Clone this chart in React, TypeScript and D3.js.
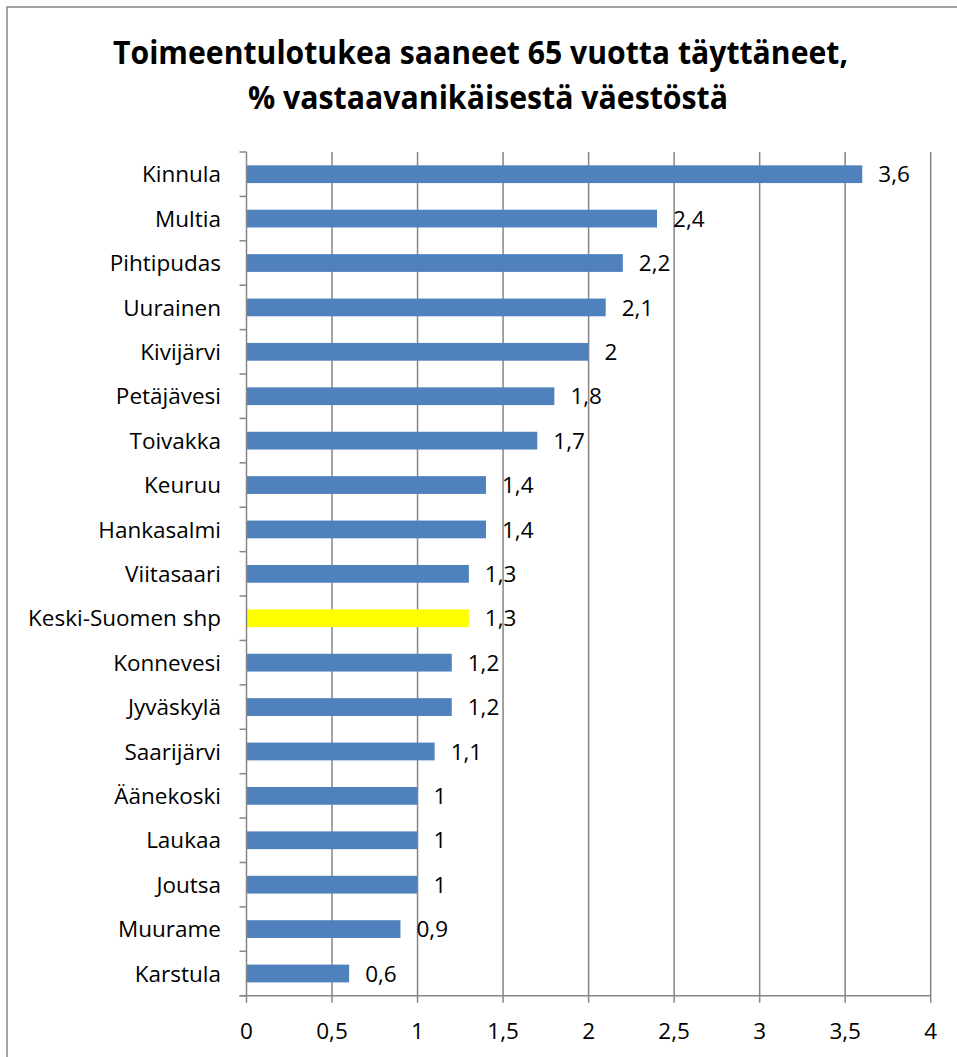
import React, { useEffect, useRef } from "react";
import * as d3 from "d3";

// chart data
const categories = [
    "Kinnula", "Multia", "Pihtipudas", "Uurainen", "Kivijärvi", "Petäjävesi",
    "Toivakka", "Keuruu", "Hankasalmi", "Viitasaari", "Keski-Suomen shp",
    "Konnevesi", "Jyväskylä", "Saarijärvi", "Äänekoski", "Laukaa", "Joutsa",
    "Muurame", "Karstula",
];
const values = [3.6, 2.4, 2.2, 2.1, 2, 1.8, 1.7, 1.4, 1.4, 1.3, 1.3, 1.2, 1.2, 1.1, 1, 1, 1, 0.9, 0.6];
const highlighted = ["Keski-Suomen shp"];
const xTicks = [0, 0.5, 1, 1.5, 2, 2.5, 3, 3.5, 4];
const titleLines = ["Toimeentulotukea saaneet 65 vuotta täyttäneet,", "% vastaavanikäisestä väestöstä"];

const W = 957;
const H = 1057;
const FONT = "'Open Sans', 'Noto Sans', sans-serif";
const LABEL_SIZE = 22.5;
const fmt = (v: number) => String(v).replace(".", ",");

export default function App() {
    const ref = useRef<SVGSVGElement | null>(null);

    useEffect(() => {
        document.body.style.margin = "0";
        const svg = d3.select(ref.current);
        svg.selectAll("*").remove();

        const left = 246.5, right = 930.7, top = 152, bottom = 995.7;

        const x = d3.scaleLinear().domain([0, 4]).range([left, right]);
        const y = d3.scaleBand<string>()
            .domain(categories)
            .range([top, bottom])
            .paddingInner(0.6)
            .paddingOuter(0.3);
        const rows = d3.scaleBand<string>().domain(categories).range([top, bottom]);

        // outer frame
        svg.append("rect")
            .attr("x", 7).attr("y", 7)
            .attr("width", W).attr("height", H)
            .attr("fill", "white")
            .attr("stroke", "#868686")
            .attr("stroke-width", 1.5);

        // title (squeezed to the reference's width, it uses a narrow bold face)
        const tw = [735, 480];
        svg.selectAll("text.title")
            .data(titleLines)
            .enter()
            .append("text")
            .attr("class", "title")
            .attr("x", (_, i) => (i === 0 ? 480.5 : 488))
            .attr("y", (_, i) => (i === 0 ? 64 : 109))
            .attr("text-anchor", "middle")
            .attr("textLength", (_, i) => tw[i])
            .attr("lengthAdjust", "spacingAndGlyphs")
            .attr("font-family", FONT)
            .attr("font-weight", "bold")
            .attr("font-size", 32)
            .attr("fill", "#000")
            .text(d => d);

        // vertical gridlines
        svg.selectAll("line.grid")
            .data(xTicks.slice(1))
            .enter()
            .append("line")
            .attr("x1", d => x(d)).attr("x2", d => x(d))
            .attr("y1", top).attr("y2", bottom)
            .attr("stroke", "#868686")
            .attr("stroke-width", 1.5);

        // bars
        svg.selectAll("rect.bar")
            .data(categories)
            .enter()
            .append("rect")
            .attr("x", x(0))
            .attr("y", d => y(d)!)
            .attr("width", (_, i) => x(values[i]) - x(0))
            .attr("height", y.bandwidth())
            .attr("fill", d => (highlighted.includes(d) ? "#FFFF00" : "#4F81BD"));

        // value labels
        svg.selectAll("text.val")
            .data(categories)
            .enter()
            .append("text")
            .attr("x", (_, i) => x(values[i]) + 16)
            .attr("y", d => y(d)! + y.bandwidth() / 2)
            .attr("dy", "0.36em")
            .attr("font-family", FONT)
            .attr("font-size", LABEL_SIZE)
            .attr("fill", "#000")
            .text((_, i) => fmt(values[i]));

        // y axis
        svg.append("line")
            .attr("x1", left).attr("x2", left)
            .attr("y1", top).attr("y2", bottom)
            .attr("stroke", "#868686").attr("stroke-width", 1.5);
        const bounds = categories.map(c => rows(c)!).concat([bottom]);
        svg.selectAll("line.ytick")
            .data(bounds)
            .enter()
            .append("line")
            .attr("x1", left - 7).attr("x2", left)
            .attr("y1", d => d).attr("y2", d => d)
            .attr("stroke", "#868686").attr("stroke-width", 1.5);
        svg.selectAll("text.cat")
            .data(categories)
            .enter()
            .append("text")
            .attr("x", 221)
            .attr("y", d => rows(d)! + rows.bandwidth() / 2)
            .attr("dy", "0.36em")
            .attr("text-anchor", "end")
            .attr("font-family", FONT)
            .attr("font-size", LABEL_SIZE)
            .attr("fill", "#000")
            .text(d => d);

        // x axis
        svg.append("line")
            .attr("x1", left - 7).attr("x2", right)
            .attr("y1", bottom).attr("y2", bottom)
            .attr("stroke", "#868686").attr("stroke-width", 1.5);
        svg.selectAll("line.xtick")
            .data(xTicks)
            .enter()
            .append("line")
            .attr("x1", d => x(d)).attr("x2", d => x(d))
            .attr("y1", bottom).attr("y2", bottom + 7)
            .attr("stroke", "#868686").attr("stroke-width", 1.5);
        svg.selectAll("text.xlab")
            .data(xTicks)
            .enter()
            .append("text")
            .attr("x", d => x(d))
            .attr("y", 1039)
            .attr("text-anchor", "middle")
            .attr("font-family", FONT)
            .attr("font-size", LABEL_SIZE)
            .attr("fill", "#000")
            .text(d => fmt(d));
    }, []);

    return <svg ref={ref} width={W} height={H} style={{ display: "block" }}></svg>;
}
